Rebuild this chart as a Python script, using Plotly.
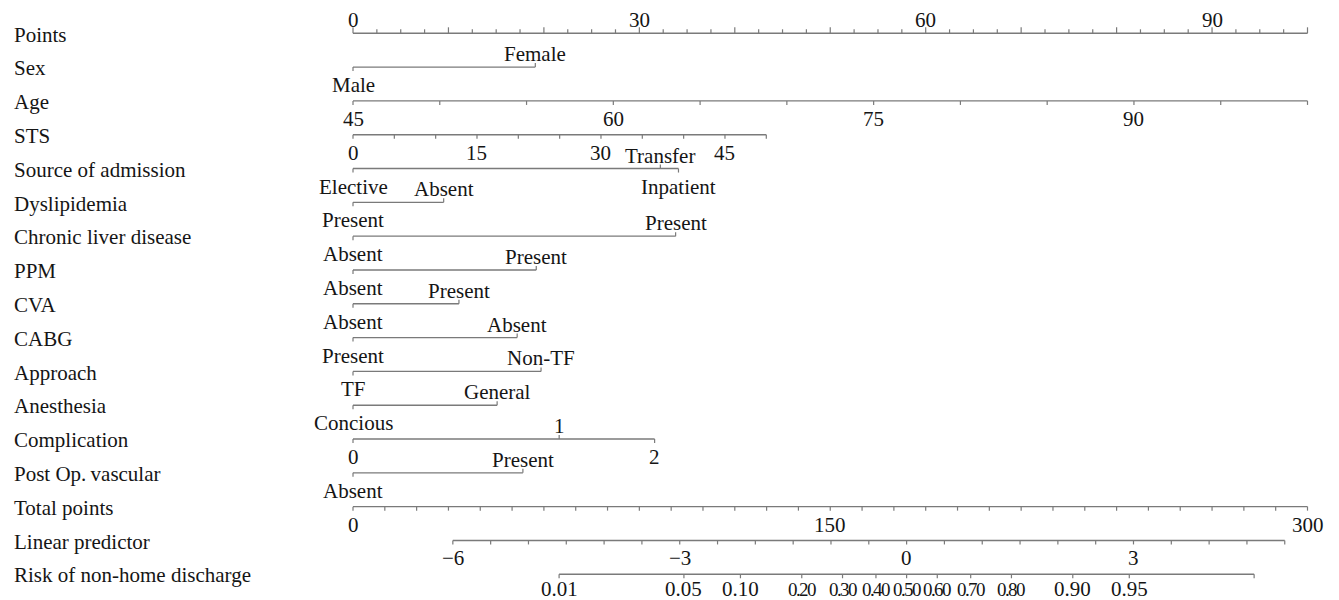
import numpy as np
import plotly.graph_objects as go

# ---- nomogram content -------------------------------------------------------
row_names = [
    "Points", "Sex", "Age", "STS", "Source of admission", "Dyslipidemia",
    "Chronic liver disease", "PPM", "CVA", "CABG", "Approach", "Anesthesia",
    "Complication", "Post Op.\u2009vascular", "Total points", "Linear predictor",
    "Risk of non-home discharge",
]

# Points scale (0-100)
points_ticks = np.arange(0, 100.001, 2.5)
points_labels = [0, 30, 60, 90]

# Continuous predictors: value range and points at the range ends
age_ticks = list(range(45, 101, 5))
age_labels = [45, 60, 75, 90]
age_points_range = (0.0, 100.0)

sts_ticks = list(range(0, 51, 5))
sts_labels = [0, 15, 30, 45]
sts_points_range = (0.0, 43.3)

# Categorical predictors: level, points, label side
sex_levels = ["Male", "Female"]
sex_points = [0.0, 19.1]
sex_side = ["below", "above"]

source_levels = ["Elective", "Transfer", "Inpatient"]
source_points = [0.0, 32.2, 34.1]
source_side = ["below", "above", "below"]

dyslip_levels = ["Present", "Absent"]
dyslip_points = [0.0, 9.5]
dyslip_side = ["below", "above"]

liver_levels = ["Absent", "Present"]
liver_points = [0.0, 33.8]
liver_side = ["below", "above"]

ppm_levels = ["Absent", "Present"]
ppm_points = [0.0, 19.2]
ppm_side = ["below", "above"]

cva_levels = ["Absent", "Present"]
cva_points = [0.0, 11.1]
cva_side = ["below", "above"]

cabg_levels = ["Present", "Absent"]
cabg_points = [0.0, 17.2]
cabg_side = ["below", "above"]

approach_levels = ["TF", "Non-TF"]
approach_points = [0.0, 19.7]
approach_side = ["below", "above"]

anesth_levels = ["Concious", "General"]
anesth_points = [0.0, 15.1]
anesth_side = ["below", "above"]

compl_levels = ["0", "1", "2"]
compl_points = [0.0, 21.6, 31.6]
compl_side = ["below", "above", "below"]

vasc_levels = ["Absent", "Present"]
vasc_points = [0.0, 17.8]
vasc_side = ["below", "above"]

# Total points, linear predictor, risk
total_ticks = list(range(0, 301, 10))
total_labels = [0, 150, 300]
lp_ticks = list(np.arange(-6, 5.001, 0.5))
lp_labels = [-6, -3, 0, 3]
lp_zero_total = 174.0     # total points at linear predictor 0
total_per_lp = 23.77      # total points per unit of linear predictor
risk_ticks = [0.01, 0.05, 0.10, 0.20, 0.30, 0.40, 0.50, 0.60, 0.70, 0.80, 0.90, 0.95]
risk_narrow = [0.20, 0.30, 0.40, 0.50, 0.60, 0.70, 0.80]
risk_end = 0.99

# ---- styling -----------------------------------------------------------------
FONT = "Liberation Serif, Times New Roman, serif"
TXT = "#151515"
LINE = "#7a7a7a"
FS = 21
W, H = 1339, 600
PX_LEFT, PX_PER_PT = 353.0, 9.545       # horizontal placement of the points scale
ROW0_PX, ROW_PX = 33.3, 33.81           # vertical placement of rows
TICK = 4.0 / ROW_PX                     # tick length in row units
ABOVE_SHIFT, BELOW_SHIFT = 13, -18      # label offsets in px

fig = go.Figure()
annotations = []


def lin(v, v0, v1, p0, p1):
    return p0 + (np.asarray(v, dtype=float) - v0) / (v1 - v0) * (p1 - p0)


def total_to_x(t):
    return np.asarray(t, dtype=float) / 3.0


def lp_to_x(lp):
    return total_to_x(lp_zero_total + total_per_lp * np.asarray(lp, dtype=float))


def risk_to_x(p):
    p = np.asarray(p, dtype=float)
    return lp_to_x(np.log(p / (1 - p)))


def axis_line(row, x0, x1):
    fig.add_trace(go.Scatter(x=[x0, x1], y=[row, row], mode="lines",
                             line=dict(color=LINE, width=1.4),
                             hoverinfo="skip", showlegend=False))


def ticks(row, xs, sides, lengths=None):
    tx, ty = [], []
    for i, (x, s) in enumerate(zip(xs, sides)):
        ln = TICK if lengths is None else lengths[i]
        tx += [x, x, None]
        ty += [row, row - ln if s == "above" else row + ln, None]
    fig.add_trace(go.Scatter(x=tx, y=ty, mode="lines",
                             line=dict(color=LINE, width=1.2),
                             hoverinfo="skip", showlegend=False))


def label(row, x, text, side, size=FS, shift=None):
    if shift is None:
        shift = ABOVE_SHIFT if side == "above" else BELOW_SHIFT
    annotations.append(dict(
        x=x, y=row, text=text, showarrow=False, xanchor="center",
        yanchor="middle", yshift=shift,
        font=dict(family=FONT, size=size, color=TXT)))


def categorical(row, levels, pts, sides):
    axis_line(row, min(pts), max(pts))
    ticks(row, pts, sides)
    for lv, p, s in zip(levels, pts, sides):
        label(row, p, lv, s)


# variable names
for r, name in enumerate(row_names):
    annotations.append(dict(
        x=0, xref="paper", y=r, text=name, showarrow=False, xanchor="left",
        yanchor="middle", xshift=12, yshift=-1.2,
        font=dict(family=FONT, size=FS, color=TXT)))

# Points
axis_line(0, points_ticks[0], points_ticks[-1])
ticks(0, points_ticks, ["above"] * len(points_ticks),
      [TICK * (1.5 if t % 10 == 0 else 1.0) for t in points_ticks])
for v in points_labels:
    label(0, v, str(v), "above")

categorical(1, sex_levels, sex_points, sex_side)

# Age
ax = lin(age_ticks, 45, 100, *age_points_range)
axis_line(2, ax[0], ax[-1])
ticks(2, ax, ["below"] * len(ax))
for v in age_labels:
    label(2, float(lin(v, 45, 100, *age_points_range)), str(v), "below")

# STS
sx = lin(sts_ticks, 0, 50, *sts_points_range)
axis_line(3, sx[0], sx[-1])
ticks(3, sx, ["below"] * len(sx))
for v in sts_labels:
    label(3, float(lin(v, 0, 50, *sts_points_range)), str(v), "below")

categorical(4, source_levels, source_points, source_side)
categorical(5, dyslip_levels, dyslip_points, dyslip_side)
categorical(6, liver_levels, liver_points, liver_side)
categorical(7, ppm_levels, ppm_points, ppm_side)
categorical(8, cva_levels, cva_points, cva_side)
categorical(9, cabg_levels, cabg_points, cabg_side)
categorical(10, approach_levels, approach_points, approach_side)
categorical(11, anesth_levels, anesth_points, anesth_side)
categorical(12, compl_levels, compl_points, compl_side)
categorical(13, vasc_levels, vasc_points, vasc_side)

# Total points
tx = total_to_x(total_ticks)
axis_line(14, tx[0], tx[-1])
ticks(14, tx, ["below"] * len(tx))
for v in total_labels:
    label(14, float(total_to_x(v)), str(v), "below")

# Linear predictor
lx = lp_to_x(lp_ticks)
axis_line(15, lx[0], lx[-1])
ticks(15, lx, ["below"] * len(lx))
for v in lp_labels:
    label(15, float(lp_to_x(v)), str(v).replace("-", "\u2212"), "below")

# Risk (crowded middle labels are set tighter)
rx = risk_to_x(risk_ticks + [risk_end])
axis_line(16, float(risk_to_x(risk_ticks[0])), float(risk_to_x(risk_end)))
ticks(16, rx, ["below"] * len(rx))
for v in risk_ticks:
    txt = f"{v:.2f}"
    if any(abs(v - s) < 1e-9 for s in risk_narrow):
        txt = f'<span style="letter-spacing:-1.6px">{txt}</span>'
        label(16, float(risk_to_x(v)), txt, "below", size=19, shift=-15)
    else:
        label(16, float(risk_to_x(v)), txt, "below", shift=-15)

x_min = -PX_LEFT / PX_PER_PT
x_max = (W - PX_LEFT) / PX_PER_PT
y_top = -ROW0_PX / ROW_PX
y_bot = (H - ROW0_PX) / ROW_PX

fig.update_layout(
    width=W, height=H, margin=dict(l=0, r=0, t=0, b=0),
    paper_bgcolor="white", plot_bgcolor="white", showlegend=False,
    xaxis=dict(range=[x_min, x_max], visible=False, fixedrange=True),
    yaxis=dict(range=[y_bot, y_top], visible=False, fixedrange=True),
    annotations=annotations, hovermode=False,
)

fig.write_html("out.html")
